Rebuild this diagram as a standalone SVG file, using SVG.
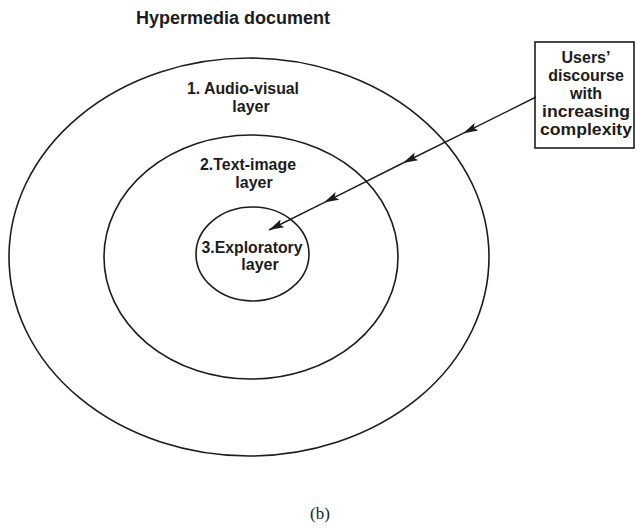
<svg xmlns="http://www.w3.org/2000/svg" width="637" height="530" viewBox="0 0 637 530">
<defs>
<style>
.lyr{fill:none;stroke:#1c1c1c;stroke-width:1.6}
.box{fill:#fff;stroke:#1c1c1c;stroke-width:1.6}
.t{font-family:"Liberation Sans",Arial,sans-serif;font-weight:bold;font-size:16px;fill:#1c1c1c;text-anchor:middle}
.b{font-family:"Liberation Sans",Arial,sans-serif;font-weight:bold;font-size:16px;fill:#1c1c1c;text-anchor:middle}
.title{font-family:"Liberation Sans",Arial,sans-serif;font-weight:bold;font-size:18px;fill:#1c1c1c;text-anchor:middle}
.cap{font-family:"Liberation Serif","Times New Roman",serif;font-size:17px;fill:#1c1c1c;text-anchor:middle}
.con{fill:none;stroke:#1c1c1c;stroke-width:1.4}
</style>
<marker id="ah" markerWidth="16" markerHeight="10" refX="15" refY="5" orient="auto" markerUnits="userSpaceOnUse">
<path d="M0,0.8 L15,5 L0,9.2 L3,5 Z" fill="#1c1c1c"/>
</marker>
</defs>
<rect width="637" height="530" fill="#fff"/>
<text class="title" x="233" y="24">Hypermedia document</text>
<g id="layer1">
<ellipse class="lyr" cx="249" cy="257" rx="240" ry="199"/>
<text class="t" x="243" y="94" textLength="112" lengthAdjust="spacingAndGlyphs">1. Audio-visual</text>
<text class="t" x="251" y="112">layer</text>
</g>
<g id="layer2">
<ellipse class="lyr" cx="251" cy="257" rx="147" ry="122"/>
<text class="t" x="248" y="170" textLength="96" lengthAdjust="spacingAndGlyphs">2.Text-image</text>
<text class="t" x="254" y="188">layer</text>
</g>
<g id="layer3">
<ellipse class="lyr" cx="252.5" cy="254" rx="56.5" ry="47"/>
<text class="t" x="252" y="253" textLength="101" lengthAdjust="spacingAndGlyphs">3.Exploratory</text>
<text class="t" x="260" y="270">layer</text>
</g>
<g id="users">
<rect class="box" x="535" y="42" width="99" height="106"/>
<text class="b" x="586" y="63">Users’</text>
<text class="b" x="586" y="81">discourse</text>
<text class="b" x="586" y="99">with</text>
<text class="b" x="586" y="117" textLength="88" lengthAdjust="spacingAndGlyphs">increasing</text>
<text class="b" x="586" y="135" textLength="92" lengthAdjust="spacingAndGlyphs">complexity</text>
</g>
<g id="connectors">
<line class="con" x1="536" y1="97" x2="463" y2="133.4" marker-end="url(#ah)"/>
<line class="con" x1="463" y1="133.4" x2="403" y2="163" marker-end="url(#ah)"/>
<line class="con" x1="403" y1="163" x2="324" y2="202.6" marker-end="url(#ah)"/>
<line class="con" x1="324" y1="202.6" x2="269" y2="230" marker-end="url(#ah)"/>
</g>
<text class="cap" x="320" y="519">(b)</text>
</svg>
